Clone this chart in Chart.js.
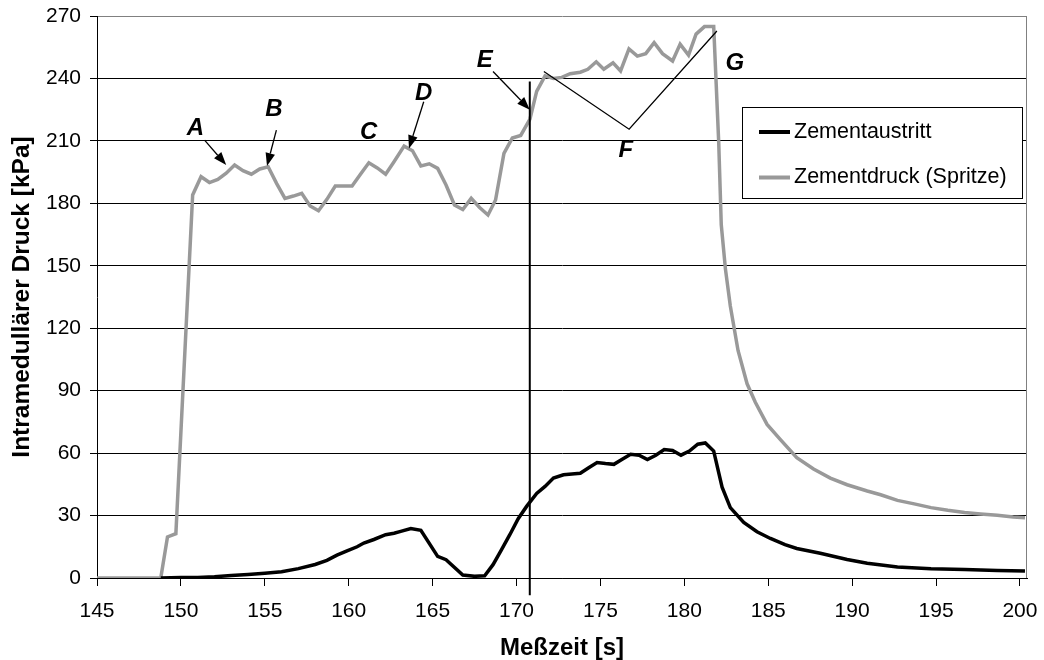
<!DOCTYPE html>
<html>
<head>
<meta charset="utf-8">
<script src="https://cdn.jsdelivr.net/npm/chart.js@4.4.0/dist/chart.umd.min.js"></script>
<style>
  html, body { margin: 0; padding: 0; background: #fff; }
  #wrap { width: 1044px; height: 660px; position: relative; }
</style>
</head>
<body>
<div id="wrap"><canvas id="druckChart"></canvas></div>
<script>
const FONT = '"Liberation Sans", Arial, Helvetica, sans-serif';

const xTicks = [145, 150, 155, 160, 165, 170, 175, 180, 185, 190, 195, 200];
const yTicks = [0, 30, 60, 90, 120, 150, 180, 210, 240, 270];

// Zementaustritt (black)
const outflowTime = [148.8, 150, 151, 152, 153, 154, 155, 156, 157, 158, 158.7, 159.3, 159.9, 160.5, 160.9,
  161.5, 162.2, 162.7, 163.1, 163.7, 164.3, 165.3, 165.8, 166.8, 167.5, 168.1, 168.6, 169.1, 169.6, 170.1,
  170.6, 171.2, 171.7, 172.2, 172.8, 173.3, 173.8, 174.3, 174.8, 175.3, 175.8, 176.3, 176.8, 177.3, 177.8,
  178.3, 178.8, 179.3, 179.8, 180.3, 180.8, 181.25, 181.75, 182.25, 182.74, 183.54, 184.33, 185.13, 186,
  186.7, 188.1, 189.7, 190.9, 192.7, 194.7, 196.7, 198.65, 200.3];
const outflowKPa = [0, 0.2, 0.3, 0.6, 1.2, 1.7, 2.3, 3, 4.5, 6.5, 8.5, 11, 13, 15, 16.8,
  18.5, 20.8, 21.5, 22.4, 23.8, 22.9, 10.4, 8.8, 1.4, 0.8, 1.1, 6.4, 13.5, 20.8, 28.5,
  34.4, 40.6, 44, 48, 49.6, 50, 50.3, 53, 55.5, 55, 54.6, 57, 59.4, 59, 56.9,
  59, 61.7, 61.3, 59, 61, 64.3, 64.9, 61, 43.6, 33.8, 26.7, 22.2, 19, 16,
  14.2, 11.9, 8.9, 7.1, 5.3, 4.4, 4.1, 3.6, 3.4];

// Zementdruck (Spritze) (grey)
const syringeTime = [145, 148.8, 149.2, 149.7, 150.7, 151.2, 151.7, 152.2, 152.7, 153.2, 153.7, 154.2, 154.7,
  155.2, 155.7, 156.2, 156.7, 157.2, 157.7, 158.2, 158.7, 159.2, 159.7, 160.2, 160.7, 161.2, 161.7, 162.2,
  162.7, 163.3, 163.8, 164.3, 164.8, 165.3, 165.8, 166.3, 166.8, 167.3, 167.8, 168.3, 168.75, 169.25, 169.75,
  170.25, 170.8, 171.2, 171.7, 172.2, 172.7, 173.2, 173.8, 174.25, 174.75, 175.2, 175.75, 176.2, 176.7,
  177.2, 177.7, 178.2, 178.7, 179.3, 179.75, 180.25, 180.7, 181.2, 181.75, 181.9, 182.05, 182.2, 182.45,
  182.74, 183.2, 183.74, 184.23, 184.93, 185.7, 186.7, 187.7, 188.7, 189.7, 190.9, 191.7, 192.7, 193.7,
  194.7, 195.7, 196.7, 197.65, 198.65, 199.6, 200.3];
const syringeKPa = [0, 0, 19.7, 21.3, 184, 192.8, 190, 191.5, 194.5, 198.4, 195.7, 194, 196.5,
  197.6, 189.6, 182.4, 183.5, 184.8, 178.7, 176.4, 181.9, 188.3, 188.3, 188.3, 194, 199.5, 197, 194,
  200, 207.5, 205.3, 198, 199, 196.8, 188.8, 179.2, 177, 182.4, 178, 174.4, 181.6, 204, 211.4,
  212.6, 220.5, 233.8, 241.2, 240, 240.5, 242.3, 243, 244.4, 248, 244.4, 247.5, 243.6, 254.2,
  250.7, 251.9, 257.2, 251.9, 248.4, 256.5, 251.2, 261.3, 264.9, 264.9, 237, 209, 169.8, 148.4,
  130.7, 109.3, 93.3, 84.4, 73.8, 66.7, 57.8, 52.4, 48, 44.8, 41.8, 40, 37.3, 35.6,
  33.8, 32.5, 31.5, 30.8, 30.2, 29.3, 29];

// annotations, in data coordinates (s, kPa)
const markTime = 170.79;
const markRange = [238.5, -8.3];
const letters = [['A', 150.87, 216.2], ['B', 155.55, 225.3], ['C', 161.19, 214.3], ['D', 164.47, 233],
  ['E', 168.11, 248.9], ['F', 176.52, 205.6], ['G', 183.01, 247.4]];
const arrows = [[151.41, 210.4, 152.7, 198.4], [155.69, 215.2, 155.13, 197.9],
  [164.47, 228.8, 163.59, 206.4], [168.6, 243.3, 170.79, 225]];
const fLine = [[171.63, 243.3], [176.71, 215.6], [181.94, 262.8]];

const seriesNames = ['Zementaustritt', 'Zementdruck (Spritze)'];
const seriesColors = ['#000000', '#999999'];

function drawArrow(ctx, x0, y0, x1, y1) {
  const ang = Math.atan2(y1 - y0, x1 - x0);
  const len = 13, half = 4.8;
  const bx = x1 - len * Math.cos(ang), by = y1 - len * Math.sin(ang);
  ctx.beginPath();
  ctx.moveTo(x0, y0);
  ctx.lineTo(bx, by);
  ctx.stroke();
  ctx.beginPath();
  ctx.moveTo(x1, y1);
  ctx.lineTo(bx + half * Math.sin(ang), by - half * Math.cos(ang));
  ctx.lineTo(bx - half * Math.sin(ang), by + half * Math.cos(ang));
  ctx.closePath();
  ctx.fill();
}

// axes keep a fixed box, no extra label padding
function noPad(s) {
  s.paddingTop = 0;
  s.paddingBottom = 0;
  s.paddingLeft = 0;
  s.paddingRight = 0;
}

const overlay = {
  id: 'overlay',
  beforeDatasetsDraw(chart) {
    const { ctx, chartArea: a } = chart;
    ctx.save();
    ctx.strokeStyle = '#808080';
    ctx.lineWidth = 1;
    ctx.beginPath();
    ctx.moveTo(a.right - 0.5, a.top);
    ctx.lineTo(a.right - 0.5, a.bottom);
    ctx.stroke();
    ctx.restore();
  },
  afterDraw(chart) {
    const { ctx, scales: { x, y } } = chart;
    const px = t => x.getPixelForValue(t);
    const py = v => y.getPixelForValue(v);
    ctx.save();
    ctx.strokeStyle = '#000';
    ctx.fillStyle = '#000';

    ctx.lineWidth = 2;
    ctx.beginPath();
    ctx.moveTo(px(markTime), py(markRange[0]));
    ctx.lineTo(px(markTime), py(markRange[1]));
    ctx.stroke();

    ctx.lineWidth = 1.3;
    ctx.beginPath();
    fLine.forEach(([t, v], i) => i ? ctx.lineTo(px(t), py(v)) : ctx.moveTo(px(t), py(v)));
    ctx.stroke();

    arrows.forEach(([t0, v0, t1, v1]) => drawArrow(ctx, px(t0), py(v0), px(t1), py(v1)));

    ctx.font = 'italic bold 24px ' + FONT;
    ctx.textAlign = 'center';
    ctx.textBaseline = 'middle';
    letters.forEach(([s, t, v]) => ctx.fillText(s, px(t), py(v)));

    // legend box
    ctx.fillStyle = '#fff';
    ctx.fillRect(742, 107, 280, 91);
    ctx.strokeStyle = '#000';
    ctx.lineWidth = 1;
    ctx.strokeRect(742.5, 107.5, 280, 91);
    ctx.font = '21.5px ' + FONT;
    ctx.textAlign = 'left';
    seriesNames.forEach((name, i) => {
      const ly = 132 + i * 45.5;
      ctx.strokeStyle = seriesColors[i];
      ctx.lineWidth = 4;
      ctx.beginPath();
      ctx.moveTo(759, ly);
      ctx.lineTo(790, ly);
      ctx.stroke();
      ctx.fillStyle = '#000';
      ctx.fillText(name, 794, ly);
    });
    ctx.restore();
  }
};

const toPoints = (ts, vs) => ts.map((t, i) => ({ x: t, y: vs[i] }));

new Chart(document.getElementById('druckChart'), {
  type: 'line',
  data: {
    datasets: [
      { label: seriesNames[0], data: toPoints(outflowTime, outflowKPa), borderColor: seriesColors[0], borderWidth: 3.5, pointRadius: 0, tension: 0 },
      { label: seriesNames[1], data: toPoints(syringeTime, syringeKPa), borderColor: seriesColors[1], borderWidth: 3.5, pointRadius: 0, tension: 0 }
    ]
  },
  options: {
    responsive: true,
    maintainAspectRatio: false,
    animation: false,
    layout: { padding: { top: 16, right: 17, left: 0, bottom: 0 } },
    plugins: { legend: { display: false }, tooltip: { enabled: false } },
    scales: {
      x: {
        type: 'linear',
        min: 145,
        max: 200.42,
        afterBuildTicks: s => { s.ticks = xTicks.map(v => ({ value: v })); },
        afterFit: s => { s.height = 82; noPad(s); },
        grid: { drawOnChartArea: false, drawTicks: true, tickLength: 8, tickColor: '#000' },
        border: { display: true, color: '#000', width: 1 },
        ticks: { color: '#000', padding: 13, maxRotation: 0, font: { family: FONT, size: 21 } },
        title: { display: true, text: 'Meßzeit [s]', color: '#000', padding: { top: 0, bottom: 0 },
          font: { family: FONT, size: 24, weight: 'bold', lineHeight: 1.0 } }
      },
      y: {
        min: 0,
        max: 270,
        afterBuildTicks: s => { s.ticks = yTicks.map(v => ({ value: v })); },
        afterFit: s => { s.width = 97; noPad(s); },
        grid: { color: c => (c.tick && c.tick.value === 270) ? '#808080' : '#000', lineWidth: 1, tickLength: 7, tickColor: '#000' },
        border: { display: true, color: '#000', width: 1 },
        ticks: { color: '#000', padding: 9, font: { family: FONT, size: 21 } },
        title: { display: true, text: 'Intramedullärer Druck [kPa]', color: '#000', padding: { top: 9, bottom: 0 },
          font: { family: FONT, size: 24.5, weight: 'bold', lineHeight: 1.1 } }
      }
    }
  },
  plugins: [overlay]
});
</script>
</body>
</html>
